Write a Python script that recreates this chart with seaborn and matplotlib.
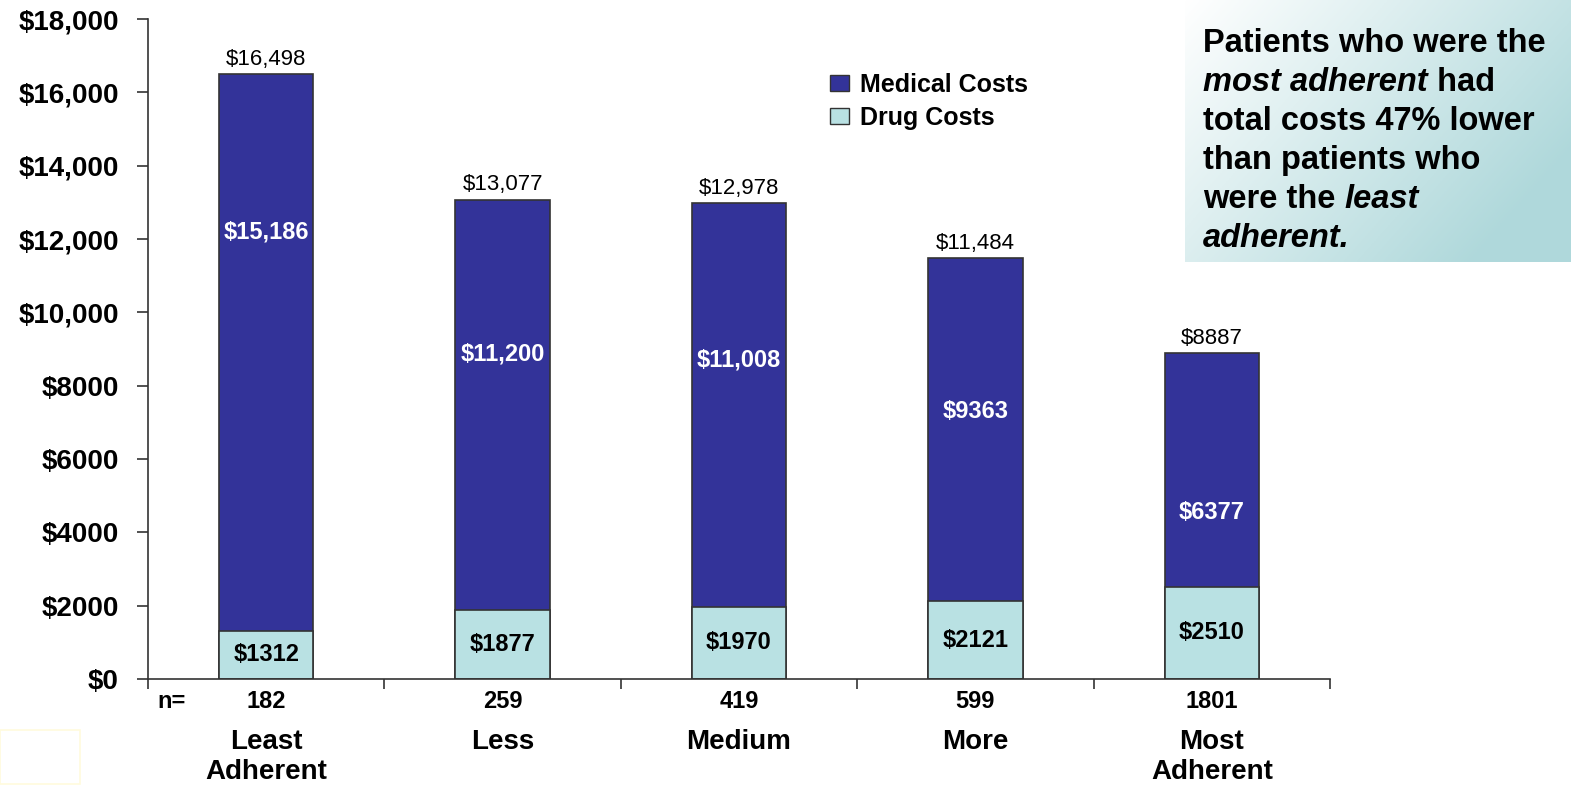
import matplotlib
matplotlib.use("Agg")
import matplotlib.pyplot as plt
import matplotlib.patches as mpatches
import matplotlib.transforms as mtransforms
import numpy as np
import pandas as pd
import seaborn as sns

# ---- data ----
categories = ["Least\nAdherent", "Less", "Medium", "More", "Most\nAdherent"]
n_values = ["182", "259", "419", "599", "1801"]
drug_costs = [1312, 1877, 1970, 2121, 2510]
medical_costs = [15186, 11200, 11008, 9363, 6377]
total_costs = [16498, 13077, 12978, 11484, 8887]
ytick_values = [0, 2000, 4000, 6000, 8000, 10000, 12000, 14000, 16000, 18000]
ytick_labels = ["$0", "$2000", "$4000", "$6000", "$8000", "$10,000", "$12,000",
                "$14,000", "$16,000", "$18,000"]
# label placement (data units) for medical-cost labels, as in the reference
medical_label_y = [12200, 8850, 8700, 7300, 4550]

MED_COLOR = "#333399"
DRUG_COLOR = "#B9E1E3"
EDGE = "#333333"

sns.set_theme(style="white")
plt.rcParams["font.family"] = ["Liberation Sans", "DejaVu Sans"]
plt.rcParams["text.color"] = "black"
plt.rcParams["xtick.color"] = "black"
plt.rcParams["ytick.color"] = "black"
plt.rcParams["axes.labelcolor"] = "black"

W, H = 1571, 785
fig = plt.figure(figsize=(W / 100, H / 100), dpi=100)
fig.patch.set_facecolor("white")

def fx(px):
    return px / W

def fy(py):
    return 1 - py / H

ax = fig.add_axes([fx(148), fy(679), fx(1330) - fx(148), fy(19) - fy(679)])

df = pd.DataFrame({"cat": categories, "drug": drug_costs,
                   "medical": medical_costs, "total": total_costs})

sns.barplot(data=df, x="cat", y="total", order=categories, color=MED_COLOR,
            saturation=1, width=0.4, edgecolor=EDGE, linewidth=1.2, ax=ax)
sns.barplot(data=df, x="cat", y="drug", order=categories, color=DRUG_COLOR,
            saturation=1, width=0.4, edgecolor=EDGE, linewidth=1.2, ax=ax)

def fmt(v):
    return f"${v:,}" if v >= 10000 else f"${v}"

for i in range(len(categories)):
    ax.annotate(fmt(total_costs[i]), xy=(i, total_costs[i]), xytext=(0, 3),
                textcoords="offset points", ha="center", va="bottom",
                fontsize=16, color="black")
    ax.text(i, medical_label_y[i], fmt(medical_costs[i]), ha="center", va="center",
            fontsize=17, fontweight="bold", color="white")
    ax.text(i, drug_costs[i] / 2, fmt(drug_costs[i]), ha="center", va="center",
            fontsize=17, fontweight="bold", color="black")

ax.set_xlim(-0.5, 4.5)
ax.set_ylim(0, 18000)
ax.set_yticks(ytick_values)
ax.set_yticklabels(ytick_labels, fontsize=20, fontweight="bold")
ax.tick_params(axis="y", direction="out", length=8, width=1.2, color=EDGE, pad=13,
               left=True)

ax.set_xticks(range(len(categories)))
ax.set_xticklabels(categories, fontsize=20, fontweight="bold", linespacing=1.2)
ax.tick_params(axis="x", which="major", length=0, pad=36)
ax.set_xticks(np.arange(-0.5, 5, 1.0), minor=True)
ax.tick_params(axis="x", which="minor", direction="out", length=7, width=1.2,
               color=EDGE, bottom=True)
ax.set_xlabel("")
ax.set_ylabel("")

for s in ["top", "right"]:
    ax.spines[s].set_visible(False)
for s in ["left", "bottom"]:
    ax.spines[s].set_color(EDGE)
    ax.spines[s].set_linewidth(1.2)

# n row
ntrans = mtransforms.blended_transform_factory(ax.transData, ax.transAxes)
ny = -22 / 660
for i, n in enumerate(n_values):
    ax.text(i, ny, n, transform=ntrans, ha="center", va="center",
            fontsize=17, fontweight="bold")
ax.text((172 - 148) / 1182, ny, "n=", transform=ax.transAxes, ha="center",
        va="center", fontsize=17, fontweight="bold")

# legend
handles = [mpatches.Patch(facecolor=MED_COLOR, edgecolor=EDGE, label="Medical Costs"),
           mpatches.Patch(facecolor=DRUG_COLOR, edgecolor=EDGE, label="Drug Costs")]
leg = fig.legend(handles=handles, loc="upper left",
                 bbox_to_anchor=(fx(830), fy(73)), frameon=False,
                 prop={"size": 18, "weight": "bold"}, handlelength=0.75,
                 handleheight=0.62, handletextpad=0.45, labelspacing=0.35,
                 borderpad=0, borderaxespad=0)

# gradient text box
gax = fig.add_axes([fx(1185), fy(262), fx(1571) - fx(1185), fy(0) - fy(262)])
gx, gy = np.meshgrid(np.linspace(0, 1, 200), np.linspace(0, 1, 100))
t = np.clip(0.75 * gx + 0.45 * gy, 0, 1)
c0 = np.array([1.0, 1.0, 1.0])
c1 = np.array([0.69, 0.85, 0.86])
img = c0[None, None, :] * (1 - t[..., None]) + c1[None, None, :] * t[..., None]
gax.imshow(img, aspect="auto", extent=(0, 1, 0, 1), origin="upper")
gax.set_axis_off()

lines = [
    [("Patients who were the", "normal")],
    [("most adherent", "italic"), (" had", "normal")],
    [("total costs 47% lower", "normal")],
    [("than patients who", "normal")],
    [("were the ", "normal"), ("least", "italic")],
    [("adherent.", "italic")],
]
base0 = 52
step = 39
BOX_FS = 23.5
fig.canvas.draw()
r = fig.canvas.get_renderer()
for li, segs in enumerate(lines):
    xpos = fx(1203)
    ypos = fy(base0 + li * step)
    for txt, style in segs:
        tt = fig.text(xpos, ypos, txt, ha="left", va="baseline", fontsize=BOX_FS,
                      fontweight="bold", fontstyle=style, color="black")
        bb = tt.get_window_extent(renderer=r)
        xpos = fig.transFigure.inverted().transform((bb.x1, bb.y0))[0]

# faint box at bottom-left
fig.patches.append(mpatches.Rectangle((fx(0), fy(784)), fx(80), fy(730) - fy(784),
                                      transform=fig.transFigure, fill=False,
                                      edgecolor="#FFFBDD", linewidth=1.2))

fig.savefig("out.png", dpi=100)
